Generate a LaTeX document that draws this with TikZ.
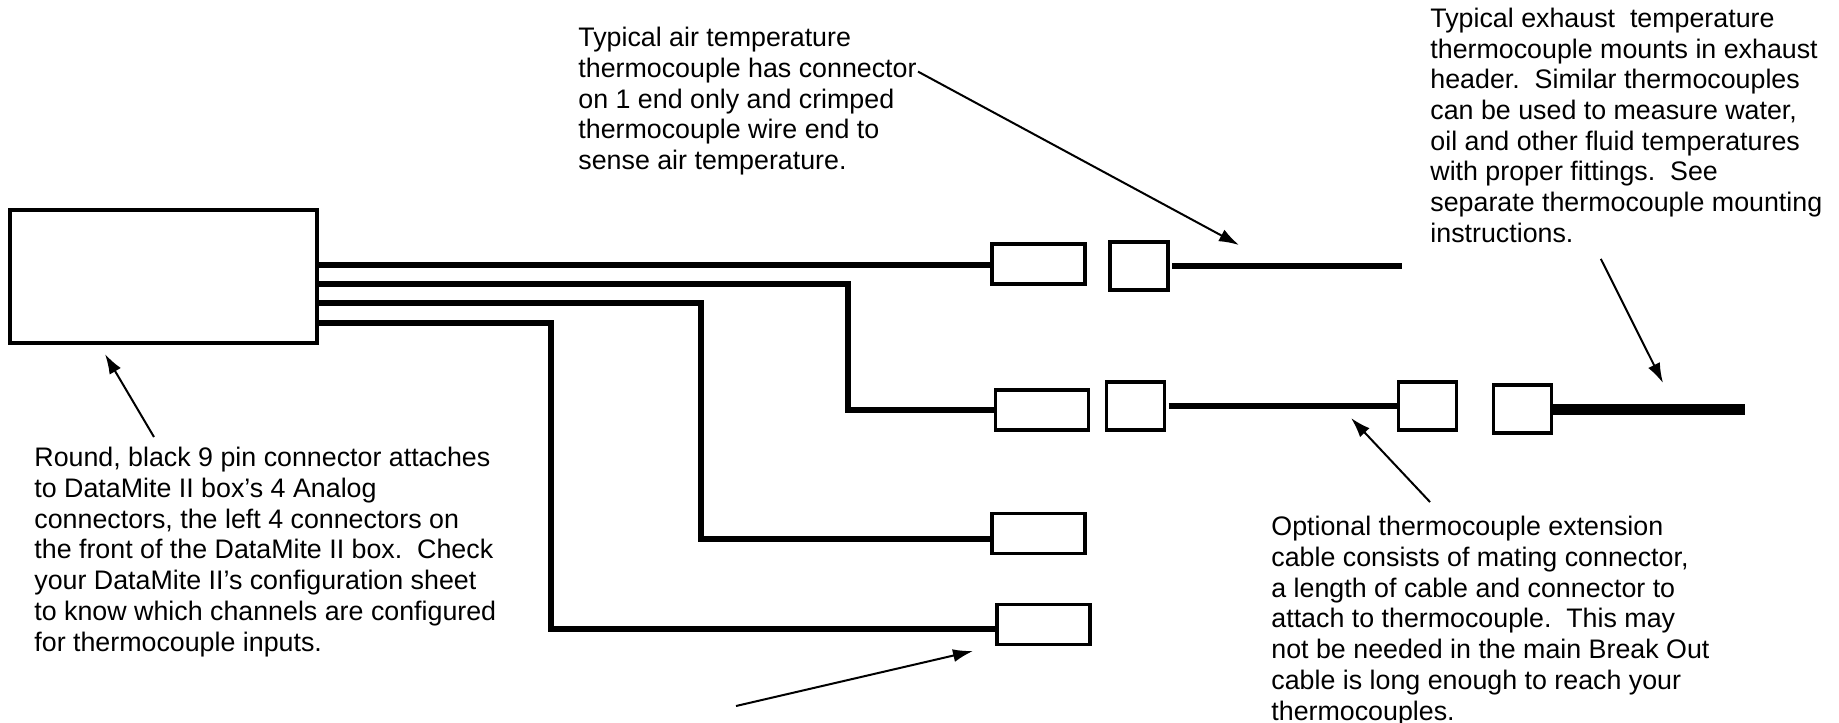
\documentclass[tikz,border=0pt]{standalone}
\usepackage{fontspec}
\setmainfont{Liberation Sans}
\usetikzlibrary{arrows.meta,positioning}
\tikzset{
  unitbox/.style={rectangle, draw=black, fill=white, line width=1.9pt, inner sep=0pt, outer sep=0pt, minimum width=153.5pt, minimum height=66.5pt},
  plug/.style={rectangle, draw=black, fill=white, line width=1.9pt, inner sep=0pt, outer sep=0pt, minimum width=46.5pt, minimum height=20pt},
  socket/.style={rectangle, draw=black, fill=white, line width=1.9pt, inner sep=0pt, outer sep=0pt, minimum width=29pt, minimum height=24pt},
  note/.style={anchor=north west, align=left, inner sep=0pt, font=\fontsize{13.4}{15.35}\selectfont},
  wire/.style={line width=3pt, draw=black},
  probe/.style={line width=5.5pt, draw=black},
  pointer/.style={-{Latex[length=10pt,width=6.5pt]}, line width=1pt, draw=black}
}
\begin{document}
\begin{tikzpicture}[x=0.5pt, y=-0.5pt]
  \useasboundingbox (0,0) rectangle (1839,722);

  \node[unitbox] (datamite) at (163.5,276.5) {};
  \node[plug] (plugA) at (1038.5,264) {};
  \node[socket, right=12.5pt of plugA, yshift=-1pt] (socketA) {};
  \node[plug] (plugB) at (1042,410) {};
  \node[socket, right=9pt of plugB, yshift=2pt] (socketB) {};
  \node[socket, right=117pt of socketB] (extA) {};
  \node[socket, right=18.5pt of extA, yshift=-1.5pt] (extB) {};
  \node[plug] (plugC) at (1038.5,533.5) {};
  \node[plug] (plugD) at (1043.5,624.5) {};

  \node[note] (noteAir) at (578,27) {Typical air temperature\\thermocouple has connector\\on 1 end only and crimped\\thermocouple wire end to\\sense air temperature.};
  \node[note] (noteExhaust) at (1430,7.5) {Typical exhaust\ \ temperature\\thermocouple mounts in exhaust\\header.\ \ Similar thermocouples\\can be used to measure water,\\oil and other fluid temperatures\\with proper fittings.\ \ See\\separate thermocouple mounting\\instructions.};
  \node[note] (noteBox) at (34,447) {Round, black 9 pin connector attaches\\to DataMite II box’s 4 Analog\\connectors, the left 4 connectors on\\the front of the DataMite II box.\ \ Check\\your DataMite II’s configuration sheet\\to know which channels are configured\\for thermocouple inputs.};
  \node[note] (noteExt) at (1271,516) {Optional thermocouple extension\\cable consists of mating connector,\\a length of cable and connector to\\attach to thermocouple.\ \ This may\\not be needed in the main Break Out\\cable is long enough to reach your\\thermocouples.};

  \coordinate (tapA) at ([yshift=5.75pt]datamite.east);
  \coordinate (tapB) at ([yshift=-3.75pt]datamite.east);
  \coordinate (tapC) at ([yshift=-13.25pt]datamite.east);
  \coordinate (tapD) at ([yshift=-23.25pt]datamite.east);
  \coordinate (bendB) at (848,410);
  \coordinate (bendC) at (701,539);
  \coordinate (bendD) at (551,629);
  \coordinate (endA) at (1402,266);
  \coordinate (endB) at (1745,409);
  \coordinate (tipBox) at (105,354);
  \coordinate (tipAir) at (1239,245);
  \coordinate (tipExhaust) at (1663,383);
  \coordinate (tipExt) at (1351,418);
  \coordinate (tipPlug) at (973,651);
  \coordinate (tailPlug) at (736,706);

  \draw[wire] (tapA) -- (tapA -| plugA.west);
  \draw[wire] (tapB) -| (bendB) -- (plugB.west);
  \draw[wire] (tapC) -| (bendC) -- (bendC -| plugC.west);
  \draw[wire] (tapD) -| (bendD) -- (bendD -| plugD.west);
  \draw[wire, shorten <=2pt] (socketA.east) -- (endA);
  \draw[wire, shorten <=2pt] (socketB.east) -- (socketB.east -| extA.west);
  \draw[probe] (extB.east) -- (endB);

  \draw[pointer] ([xshift=60pt,yshift=5pt]noteBox.north west) -- (tipBox);
  \draw[pointer] ([xshift=170pt,yshift=-22.3pt]noteAir.north west) -- (tipAir);
  \draw[pointer] ([xshift=85.4pt,yshift=-125.7pt]noteExhaust.north west) -- (tipExhaust);
  \draw[pointer] ([xshift=79.5pt,yshift=7pt]noteExt.north west) -- (tipExt);
  \draw[pointer] (tailPlug) -- (tipPlug);
\end{tikzpicture}
\end{document}
